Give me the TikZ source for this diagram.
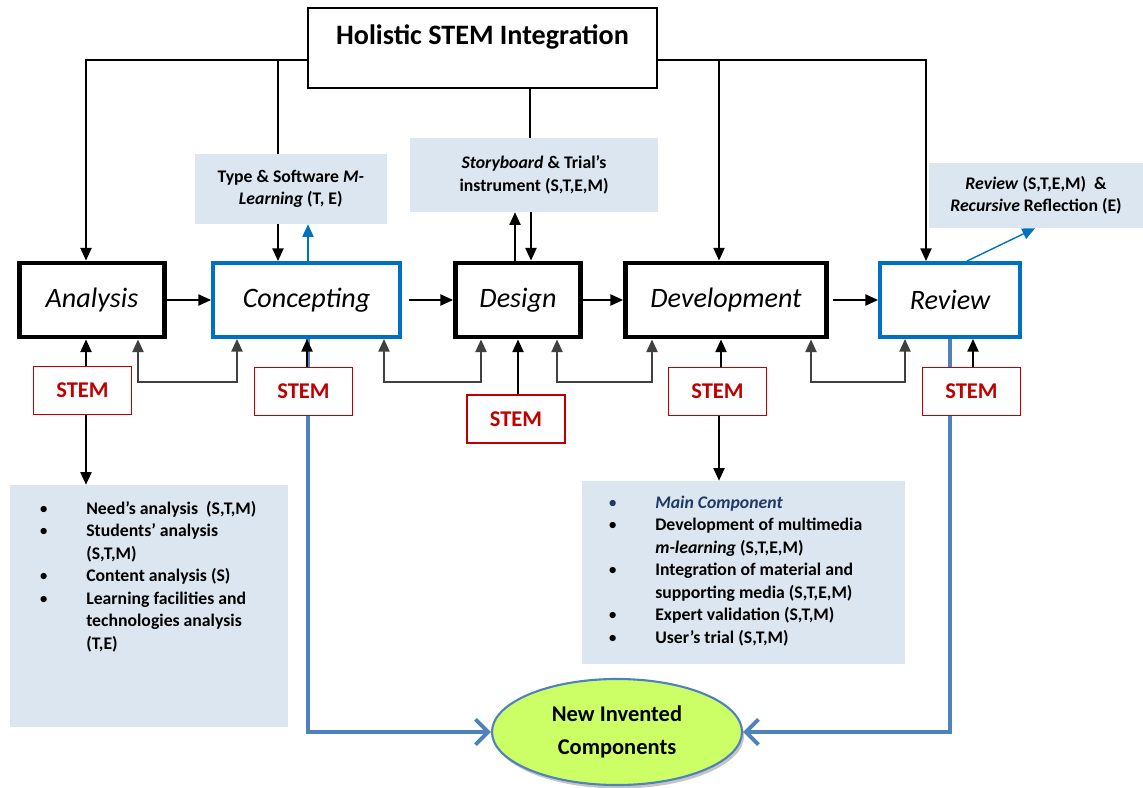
\documentclass[tikz,border=0pt]{standalone}
\usepackage{fontspec}
\setmainfont{Carlito}
\usetikzlibrary{arrows.meta,shapes.geometric,shadows}
\definecolor{stageblue}{RGB}{0, 112, 192}
\definecolor{stemred}{RGB}{192, 0, 0}
\definecolor{infofill}{RGB}{220, 230, 241}
\definecolor{linkblue}{RGB}{79, 129, 189}
\definecolor{limegreen}{RGB}{204, 255, 102}
\definecolor{navytext}{RGB}{31, 56, 100}
\newcommand{\dotitem}{{\mdseries\textbullet}}

\begin{document}
\begin{tikzpicture}[x=0.025cm, y=-0.025cm,
    stage/.style={draw, line width=3.5pt, minimum height=1.85cm, inner sep=0pt,
                  font=\fontsize{20}{24}\selectfont\itshape},
    bluestage/.style={stage, draw=stageblue, line width=2.8pt},
    stemtag/.style={draw=stemred, line width=1pt, fill=white, text=stemred,
                    minimum width=2.45cm, minimum height=1.2cm,
                    font=\fontsize{16}{19}\selectfont\bfseries},
    infobox/.style={fill=infofill, inner sep=0pt, align=center,
                    font=\fontsize{12.6}{16}\selectfont\bfseries},
    itemlist/.style={anchor=north west, inner sep=0pt, font=\fontsize{12.6}{16}\selectfont\bfseries},
    flow/.style={line width=1pt, -{Triangle[length=9pt,width=8pt]}},
    biflow/.style={line width=1pt, draw=black!75,
                   {Triangle[length=9pt,width=8pt]}-{Triangle[length=9pt,width=8pt]}},
    blueflow/.style={line width=1pt, draw=stageblue, -{Triangle[length=9pt,width=8pt]}},
    bigflow/.style={line width=2.8pt, draw=linkblue, -{Straight Barb[length=9pt,width=18pt]}}]
            % Frame to ensure alignment:
            \useasboundingbox (0,0) rectangle (1143,788);

            \node[draw, line width=1.6pt, minimum width=8.725cm, minimum height=2cm] (holistic) at (482.5,48) {};
            \node[font=\fontsize{20}{24}\selectfont\bfseries] (holtitle) at (482.5,37) {Holistic STEM Integration};

            \node[stage,     minimum width=3.625cm] (analysis)    at ( 92,300) {Analysis};
            \node[bluestage, minimum width=4.675cm] (concepting)  at (306.5,300) {Concepting};
            \node[stage,     minimum width=3.125cm] (design)      at (518,300) {Design};
            \node[stage,     minimum width=5.025cm] (development) at (726,300) {Development};
            \node[bluestage, minimum width=3.5cm]   (review)      at (950,300) {Review};

            \node[infobox, minimum width=4.79cm, minimum height=1.75cm]  (typebox)   at (290.75,189) {Type \& Software \textit{M-}\\\textit{Learning} (T, E)};
            \node[infobox, minimum width=6.2cm,  minimum height=1.85cm]  (storybox)  at (534,175)    {\textit{Storyboard} \& Trial's\\instrument (S,T,E,M)};
            \node[infobox, minimum width=5.35cm, minimum height=1.625cm] (reviewbox) at (1036,195.5) {\textit{Review} (S,T,E,M)\ \ \&\\\textit{Recursive} Reflection (E)};

            \node[ellipse, draw=linkblue, line width=1.5pt, fill=limegreen, minimum width=6.25cm, minimum height=2.65cm,
                  align=center, font=\fontsize{16}{23}\selectfont\bfseries,
                  drop shadow={shadow xshift=1.5pt, shadow yshift=-2.5pt, fill=black!45}] (invented) at (617,732) {New Invented\\Components};

            % Outputs into the new components (under the STEM tags):
            \draw[bigflow] (concepting.south -| 308,0) |- (invented.west);
            \draw[bigflow] (review.south -| 950,0)     |- (invented.east);

            \node[stemtag] (stemA) at ( 82.5,390.5) {STEM};
            \node[stemtag] (stemB) at (303.5,391.5) {STEM};
            \node[stemtag] (stemC) at (516,419)     {STEM};
            \node[stemtag] (stemD) at (717.5,391.5) {STEM};
            \node[stemtag] (stemE) at (971.5,391.5) {STEM};

            \node[infobox, minimum width=6.95cm,  minimum height=6.05cm]  (anlist)  at (149,606)   {};
            \node[infobox, minimum width=8.075cm, minimum height=4.575cm] (devlist) at (743.5,572.5) {};
            \node[itemlist] (anitems) at (39,498) {%
                \begin{tabular}{@{}p{1.175cm}@{}l@{}}
                  \dotitem & Need's analysis\ \ (S,T,M)\\
                  \dotitem & Students' analysis\\
                           & (S,T,M)\\
                  \dotitem & Content analysis (S)\\
                  \dotitem & Learning facilities and\\
                           & technologies analysis\\
                           & (T,E)
                \end{tabular}};
            \node[itemlist] (devitems) at (608,492) {%
                \begin{tabular}{@{}p{1.175cm}@{}l@{}}
                  \textcolor{navytext}{\dotitem} & \textcolor{navytext}{\textit{Main Component}}\\
                  \dotitem & Development of multimedia\\
                           & \textit{m-learning} (S,T,E,M)\\
                  \dotitem & Integration of material and\\
                           & supporting media (S,T,E,M)\\
                  \dotitem & Expert validation (S,T,M)\\
                  \dotitem & User's trial (S,T,M)
                \end{tabular}};

            % Holistic integration feeds every stage:
            \coordinate (hL) at ([yshift=-0.3cm]holistic.west);
            \coordinate (hR) at ([yshift=-0.3cm]holistic.east);
            \draw[flow] (hL) -| (analysis.north -| 86,0);
            \draw[line width=1pt] (hL -| 278,0) -- (typebox.north -| 278,0);
            \draw[line width=1pt] (holistic.south -| 530,0) -- (storybox.north -| 530,0);
            \draw[flow] (hR) -| (review.north -| 926,0);
            \draw[flow] (hR -| 719,0) -- (development.north -| 719,0);

            \draw[flow]     (typebox.south -| 278,0)  -- (concepting.north -| 278,0);
            \draw[blueflow] (concepting.north -| 308,0) -- (typebox.south -| 308,0);
            \draw[flow]     (storybox.south -| 531,0) -- (design.north -| 531,0);
            \draw[flow]     (design.north -| 515,0)   -- (storybox.south -| 515,0);
            \draw[blueflow] (review.north -| 967,0)   -- (reviewbox.south -| 1035,0);

            % Main sequence:
            \draw[flow] (analysis)    -- (concepting);
            \draw[flow, shorten <=5pt] (concepting)  -- (design);
            \draw[flow] (design)      -- (development);
            \draw[flow, shorten <=3pt] (development) -- (review);

            % Feedback between neighbouring stages:
            \draw[biflow] (analysis.south -| 138,0)   |- (187,382) -| (concepting.south -| 237,0);
            \draw[biflow] (concepting.south -| 384,0) |- (432,382) -| (design.south -| 481,0);
            \draw[biflow] (design.south -| 557,0)     |- (604,382) -| (development.south -| 652,0);
            \draw[biflow] (development.south -| 811,0) |- (858,382) -| (review.south -| 905,0);

            \draw[flow] (stemA.north -| 86,0)  -- (analysis.south -| 86,0);
            \draw[flow] (stemB.north -| 307,0) -- (concepting.south -| 307,0);
            \draw[flow] (stemC.north -| 518,0) -- (design.south -| 518,0);
            \draw[flow] (stemD.north -| 721,0) -- (development.south -| 721,0);
            \draw[flow] (stemE.north -| 973,0) -- (review.south -| 973,0);

            \draw[flow] (stemA.south -| 86,0)  -- (anlist.north -| 86,0);
            \draw[flow] (stemD.south -| 719,0) -- (devlist.north -| 719,0);
        \end{tikzpicture}
\end{document}
